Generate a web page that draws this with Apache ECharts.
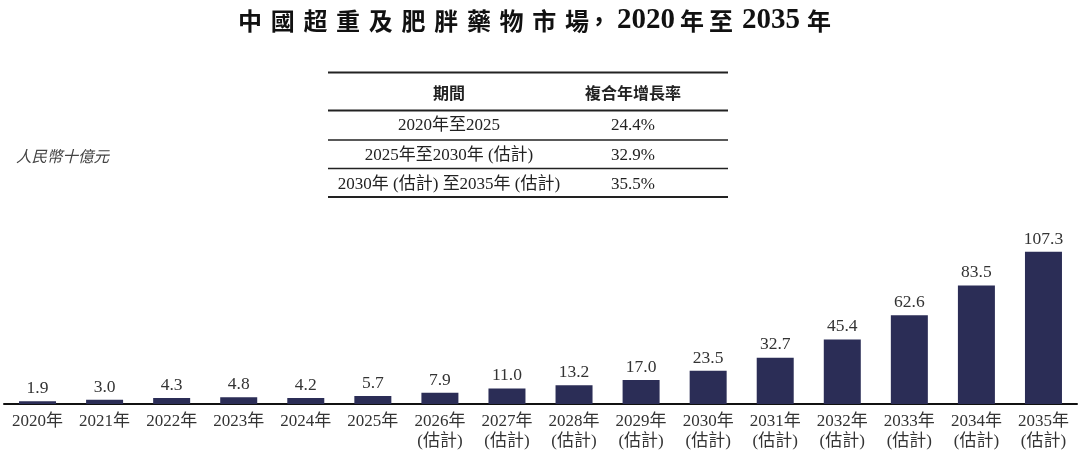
<!DOCTYPE html>
<html>
<head>
<meta charset="utf-8">
<script src="https://cdn.jsdelivr.net/npm/echarts@6/dist/echarts.min.js"></script>
<style>
  html, body { margin: 0; padding: 0; background: #fff; }
  #chart { width: 1080px; height: 456px; }
</style>
</head>
<body>
<div id="chart"></div>
<script>
// 年份及數值（人民幣十億元）
const years = ['2020年', '2021年', '2022年', '2023年', '2024年', '2025年',
  '2026年', '2027年', '2028年', '2029年', '2030年', '2031年', '2032年',
  '2033年', '2034年', '2035年'];
const estimated = [false, false, false, false, false, false,
  true, true, true, true, true, true, true, true, true, true];
const marketSize = [1.9, 3.0, 4.3, 4.8, 4.2, 5.7, 7.9, 11.0, 13.2, 17.0,
  23.5, 32.7, 45.4, 62.6, 83.5, 107.3];

// 複合年增長率表
const periodHeader = '期間';
const cagrHeader = '複合年增長率';
const periods = ['2020年至2025', '2025年至2030年 (估計)', '2030年 (估計) 至2035年 (估計)'];
const cagrs = ['24.4%', '32.9%', '35.5%'];

const serif = '"Liberation Serif", "Noto Sans CJK TC", serif';
const sans = '"Noto Sans CJK TC", sans-serif';
const barColor = '#2b2d56';
const textColor = '#333';

const categories = years.map((y, i) => estimated[i] ? y + '\n(估計)' : y);

// 標題：漢字逐字等寬排開
const titleHan = '中國超重及肥胖藥物市';
const titleText = titleHan.split('').map(c => '{c|' + c + '}').join('') +
  '{h|場}{p|，}{n1|2020}{y|年}{z|至}{n2|2035}{y|年}';

// 表格
const tableX1 = 328, tableX2 = 728;
const col1 = 449, col2 = 633;
const ruleYs = [72.5, 110.5, 140, 168.5, 197];
const rowYs = [126, 156, 185];
const graphic = [];
ruleYs.forEach((y, i) => {
  graphic.push({
    type: 'line',
    shape: { x1: tableX1, y1: y, x2: tableX2, y2: y },
    style: { stroke: '#222', lineWidth: (i === 0 || i === 1 || i === ruleYs.length - 1) ? 2 : 1.5 }
  });
});
[[periodHeader, col1], [cagrHeader, col2]].forEach(([t, x]) => {
  graphic.push({
    type: 'text', x: x, y: 93,
    style: { text: t, align: 'center', verticalAlign: 'middle',
      font: 'bold 16px ' + sans, fill: '#222' }
  });
});
periods.forEach((p, i) => {
  graphic.push({
    type: 'text', x: col1, y: rowYs[i],
    style: { text: p, align: 'center', verticalAlign: 'middle',
      font: '17px ' + serif, fill: '#222' }
  });
  graphic.push({
    type: 'text', x: col2, y: rowYs[i],
    style: { text: cagrs[i], align: 'center', verticalAlign: 'middle',
      font: '17px ' + serif, fill: '#222' }
  });
});
// 單位
graphic.push({
  type: 'text', x: 16, y: 158,
  style: { text: '人民幣十億元', align: 'left', verticalAlign: 'middle',
    font: 'italic 15.5px ' + serif, fill: '#444' }
});

const hanStyle = { fontSize: 24, fontWeight: 'bold', fontFamily: sans, color: '#111', lineHeight: 32 };
const numStyle = { fontSize: 29, fontWeight: 'bold', fontFamily: '"Liberation Serif", serif', color: '#111', lineHeight: 32 };

const chart = echarts.init(document.getElementById('chart'));
chart.setOption({
  animation: false,
  title: {
    text: titleText,
    left: 238,
    top: 5,
    padding: 0,
    textStyle: {
      rich: {
        c: Object.assign({ width: 32.7 }, hanStyle),
        h: Object.assign({ width: 22 }, hanStyle),
        p: Object.assign({ width: 24 }, hanStyle),
        y: Object.assign({ width: 29 }, hanStyle),
        z: Object.assign({ width: 29 }, hanStyle),
        n1: Object.assign({ padding: [0, 5, 0, 6] }, numStyle),
        n2: Object.assign({ padding: [0, 7, 0, 4] }, numStyle)
      }
    }
  },
  grid: { left: 4, right: 3, top: 248, bottom: 52, containLabel: false },
  xAxis: {
    type: 'category',
    data: categories,
    axisLine: { lineStyle: { color: '#111', width: 2 } },
    axisTick: { show: false },
    axisLabel: {
      interval: 0,
      margin: 8,
      color: textColor,
      fontSize: 17,
      fontFamily: serif,
      lineHeight: 20
    }
  },
  yAxis: {
    type: 'value',
    min: 0,
    max: 110,
    show: false,
    splitLine: { show: false }
  },
  series: [{
    type: 'bar',
    data: marketSize,
    barWidth: 37,
    itemStyle: { color: barColor },
    label: {
      show: true,
      position: 'top',
      distance: 4,
      color: textColor,
      fontSize: 17.5,
      fontFamily: serif,
      formatter: p => p.value.toFixed(1)
    }
  }],
  graphic: graphic
});
</script>
</body>
</html>
